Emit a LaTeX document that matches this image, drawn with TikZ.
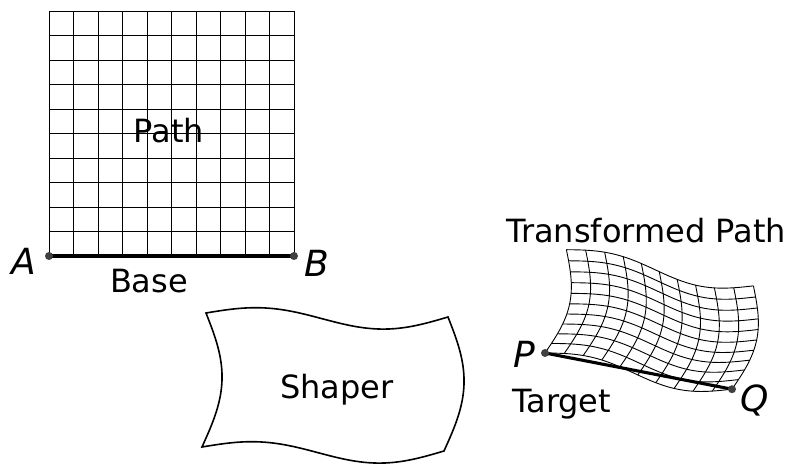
\documentclass[tikz,border=0pt]{standalone}
\usepackage{fontspec}
\setmainfont{DejaVu Sans}
\usetikzlibrary{calc,positioning}
\tikzset{
    shaper diagram/.style = {x=1pt, y=1pt},
    gridline/.style       = {line width=0.9pt},
    outline/.style        = {line width=1.6pt, line join=miter},
    segment/.style        = {line width=3.1pt},
    endpoint/.style       = {circle, fill=black!75, inner sep=0pt,
                             minimum size=8pt},
    lbl/.style            = {font=\fontsize{32}{38}\selectfont, inner sep=0pt},
    ptlbl/.style          = {font=\fontsize{36}{42}\selectfont\itshape,
                             inner sep=0pt},
    curve/.style          = {variable=\t, domain=0:1, samples=30, smooth},
    declare function = {
        shx(\u,\v) = 242*\u + 4*\v + 18*sin(180*\v);
        shy(\u,\v) = -4*\u + 134*\v + 9.5*sin(360*\u) - 5*sin(180*\u);
    }
}
\begin{document}
\begin{tikzpicture}[shaper diagram]
\useasboundingbox (0,0) rectangle (793,464);

% Straight path on its base.
\coordinate (A) at (49,208);
\coordinate (B) at (294,208);
\foreach \k in {0,...,10} {
    \draw[gridline] ($(A)+(24.5*\k,0)$) -- ++(0,245);
    \draw[gridline] ($(A)+(0,24.5*\k)$) -- ++(245,0);
}
\draw[segment] (A) -- (B);
\node[endpoint] (dotA) at (A) {};
\node[endpoint] (dotB) at (B) {};
\node[lbl,anchor=base] (pathlbl) at (169,321) {Path};
\node[lbl,anchor=base] (baselbl) at (149,171) {Base};
\node[ptlbl,anchor=base east] (albl) at (36,189) {A};
\node[ptlbl,anchor=base west] (blbl) at (304,187.5) {B};

% Outline of the shaper.
\begin{scope}[shift={(202,17)}]
\draw[outline] plot[curve] ({shx(\t,0)},{shy(\t,0)})
    -- plot[curve] ({shx(1,\t)},{shy(1,\t)})
    -- plot[curve,domain=1:0] ({shx(\t,1)},{shy(\t,1)})
    -- plot[curve,domain=1:0] ({shx(0,\t)},{shy(0,\t)}) -- cycle;
\end{scope}
\node[lbl,anchor=base] (shaperlbl) at (337,66) {Shaper};

% Path bent through the shaper onto the target.
\coordinate (P) at (545,111);
\coordinate (Q) at (732,74.8);
\begin{scope}[shift={(P)}, rotate=-10, scale=0.787]
\foreach \k in {0,...,10} {
    \draw[gridline] plot[curve] ({shx(\k/10,\t)},{shy(\k/10,\t)});
    \draw[gridline] plot[curve] ({shx(\t,\k/10)},{shy(\t,\k/10)});
}
\end{scope}
\draw[segment] (P) -- (Q);
\node[endpoint] (dotP) at (P) {};
\node[endpoint] (dotQ) at (Q) {};
\node[lbl,anchor=base west] (translbl) at (506,221) {Transformed Path};
\node[ptlbl,anchor=base east] (plbl) at (535,96) {P};
\node[ptlbl,anchor=base west] (qlbl) at (740,52.5) {Q};
\node[lbl,anchor=base west] (targetlbl) at (512,51.3) {Target};

\end{tikzpicture}
\end{document}
